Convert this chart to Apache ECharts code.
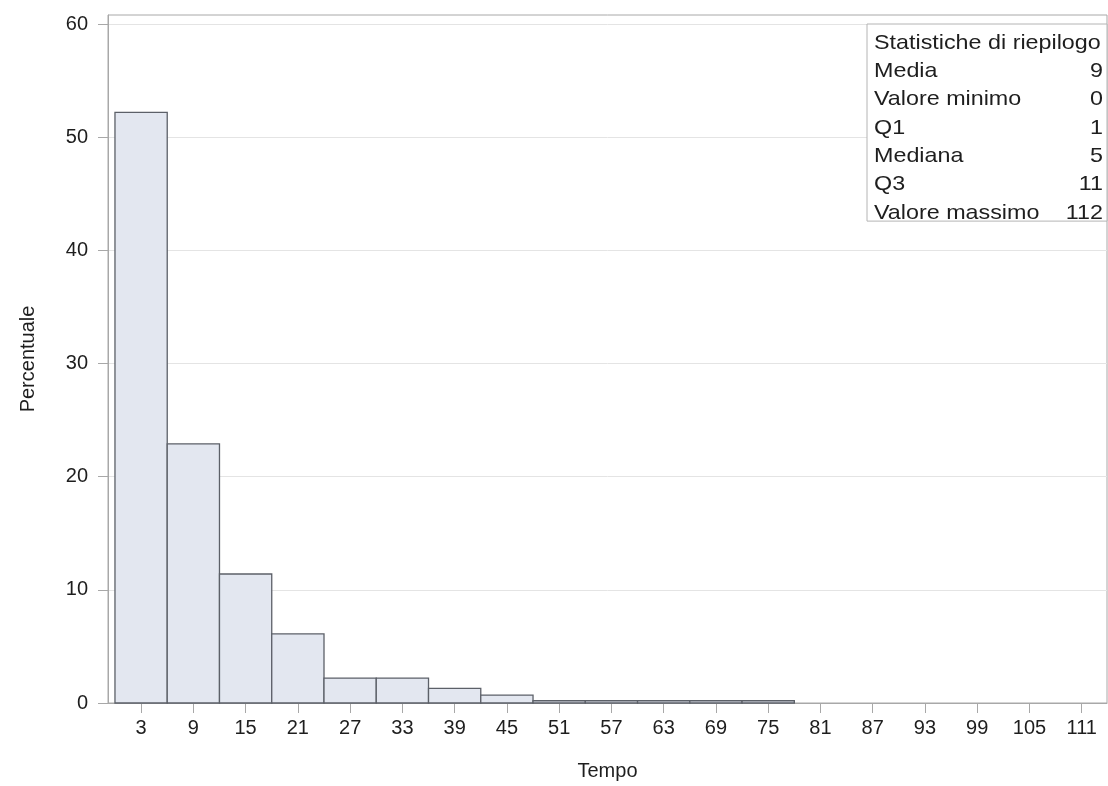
<!DOCTYPE html>
<html>
<head>
<meta charset="utf-8">
<title>Tempo - istogramma</title>
<script src="https://cdn.jsdelivr.net/npm/echarts@6/dist/echarts.min.js"></script>
<style>
  html, body { margin: 0; padding: 0; background: #ffffff; }
  #chart { width: 1108px; height: 786px; }
</style>
</head>
<body>
<div id="chart"></div>
<script>
// Histogram bins: lower edge of each class (width 6) and percentage of observations
const binWidth = 6;
const binStarts = [0, 6, 12, 18, 24, 30, 36, 42, 48, 54, 60, 66, 72, 78, 84, 90, 96, 102, 108];
const percentages = [52.2, 22.9, 11.4, 6.1, 2.2, 2.2, 1.3, 0.7, 0.2, 0.2, 0.2, 0.2, 0.2, 0, 0, 0, 0, 0, 0];

// Tick labels
const xTicks = [3, 9, 15, 21, 27, 33, 39, 45, 51, 57, 63, 69, 75, 81, 87, 93, 99, 105, 111];
const yTicks = [0, 10, 20, 30, 40, 50, 60];

// Summary statistics inset
const statTitle = 'Statistiche di riepilogo';
const statLabels = ['Media', 'Valore minimo', 'Q1', 'Mediana', 'Q3', 'Valore massimo'];
const statValues = ['9', '0', '1', '5', '11', '112'];

const FONT = '"Liberation Sans", Arial, sans-serif';
const frameColor = '#a8a8a8';
const textColor = '#1e1e1e';

const histData = binStarts.map((s, i) => [s, s + binWidth, percentages[i]]);

// Inset box drawn with graphic elements
const boxLeft = 867, boxTop = 24, boxRight = 1107, rowH = 28.3;
const insetFont = '21px ' + FONT;
const stretch = 1.11;
const insetChildren = [{
  type: 'rect',
  shape: { x: boxLeft, y: boxTop, width: boxRight - boxLeft, height: rowH * 7 - 1 },
  style: { fill: '#ffffff', stroke: '#b4b4b4', lineWidth: 1 },
  z: 10
}, {
  type: 'text',
  x: boxLeft + 7, y: boxTop + 19, scaleX: stretch,
  style: { text: statTitle, font: insetFont, fill: textColor, verticalAlign: 'middle', align: 'left' },
  z: 11
}];
statLabels.forEach((lab, i) => {
  const cy = boxTop + 19 + rowH * (i + 1);
  insetChildren.push({
    type: 'text', x: boxLeft + 7, y: cy, scaleX: stretch,
    style: { text: lab, font: insetFont, fill: textColor, verticalAlign: 'middle', align: 'left' },
    z: 11
  });
  insetChildren.push({
    type: 'text', x: boxRight - 4, y: cy, scaleX: stretch,
    style: { text: statValues[i], font: insetFont, fill: textColor, verticalAlign: 'middle', align: 'right' },
    z: 11
  });
});

const chart = echarts.init(document.getElementById('chart'), null, { renderer: 'canvas' });

chart.setOption({
  animation: false,
  backgroundColor: '#ffffff',
  grid: {
    left: 108, top: 15, right: 1, bottom: 82,
    show: true, borderColor: frameColor, borderWidth: 1, backgroundColor: '#ffffff'
  },
  xAxis: {
    type: 'value',
    min: -0.8,
    max: 113.9,
    name: 'Tempo',
    nameLocation: 'middle',
    nameGap: 58,
    nameTextStyle: { fontFamily: FONT, fontSize: 20, color: textColor },
    axisLine: { show: true, onZero: false, lineStyle: { color: frameColor, width: 1 } },
    axisTick: { show: true, length: 10, customValues: xTicks, lineStyle: { color: frameColor } },
    axisLabel: {
      customValues: xTicks, margin: 15,
      fontFamily: FONT, fontSize: 20, color: textColor,
      formatter: v => String(v)
    },
    splitLine: { show: false }
  },
  yAxis: {
    type: 'value',
    min: 0,
    max: 60.8,
    name: 'Percentuale',
    nameLocation: 'middle',
    nameGap: 70,
    nameRotate: 90,
    nameTextStyle: { fontFamily: FONT, fontSize: 20, color: textColor },
    axisLine: { show: true, onZero: false, lineStyle: { color: frameColor, width: 1 } },
    axisTick: { show: true, length: 10, customValues: yTicks, lineStyle: { color: frameColor } },
    axisLabel: {
      customValues: yTicks, margin: 20,
      fontFamily: FONT, fontSize: 20, color: textColor,
      formatter: v => String(v)
    },
    splitLine: { show: true, lineStyle: { color: '#e4e4e4', width: 1 } }
  },
  graphic: [{ type: 'group', children: insetChildren }],
  series: [{
    type: 'custom',
    data: histData,
    encode: { x: [0, 1], y: 2 },
    renderItem: function (params, api) {
      const v = api.value(2);
      if (!(v > 0)) return null;
      const p0 = api.coord([api.value(0), 0]);
      const p1 = api.coord([api.value(1), v]);
      return {
        type: 'rect',
        shape: { x: p0[0], y: p1[1], width: p1[0] - p0[0], height: p0[1] - p1[1] },
        style: { fill: '#e3e7f0', stroke: '#5c6068', lineWidth: 1.3 }
      };
    },
    z: 3
  }]
});
</script>
</body>
</html>
